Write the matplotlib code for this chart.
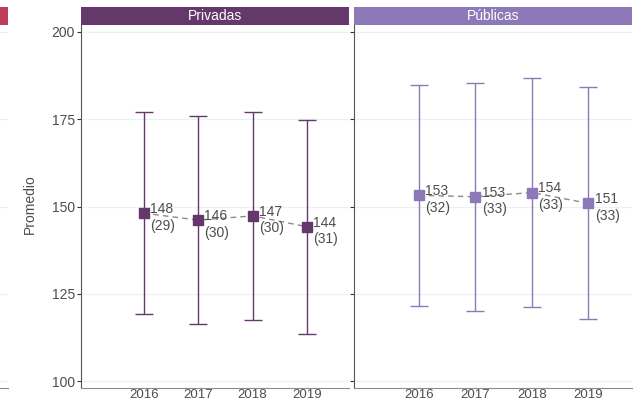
import matplotlib
matplotlib.use("Agg")
import matplotlib.pyplot as plt
import numpy as np

plt.rcParams["font.family"] = ["Liberation Sans", "DejaVu Sans"]

years = [2016, 2017, 2018, 2019]
panels = ["Privadas", "Públicas"]
priv_mean = [148.1, 146.1, 147.3, 144.2]
priv_sd = [29.0, 29.8, 29.9, 30.6]
pub_mean = [153.2, 152.8, 154.0, 150.9]
pub_sd = [31.7, 32.7, 32.7, 33.2]
yticks = [100, 125, 150, 175, 200]

colors = {"Privadas": "#65386B", "Públicas": "#8D79B7"}
left_color = "#C03A5C"
grid_c = "#EBF1F1"
text_c = "#4D4D4D"

W, H = 635, 403
fig = plt.figure(figsize=(W / 100, H / 100), dpi=100)


def px(l, r, top, bot):
    return [l / W, (H - bot) / H, (r - l) / W, (bot - top) / H]


def strip(l, r, color, label):
    sax = fig.add_axes(px(l, r, 7, 25))
    sax.set_facecolor(color)
    sax.set_xticks([])
    sax.set_yticks([])
    for s in sax.spines.values():
        s.set_visible(False)
    if label:
        sax.text(0.5, 0.5, label, color="white", fontsize=10,
                 ha="center", va="center", transform=sax.transAxes)


def base_axes(l, r):
    ax = fig.add_axes(px(l, r, 25, 388))
    ax.set_ylim(98, 202)
    ax.set_yticks(yticks)
    ax.grid(axis="y", color=grid_c, lw=0.9)
    ax.set_axisbelow(True)
    ax.spines["top"].set_visible(False)
    ax.spines["right"].set_visible(False)
    ax.spines["left"].set_color("#555555")
    ax.spines["bottom"].set_color("#8C8C8C")
    return ax


# partial panel on the left (cut off in the reference)
axl = base_axes(-270, 8)
axl.spines["left"].set_visible(False)
axl.set_xticks([])
axl.tick_params(axis="y", length=0, labelleft=False)
strip(-270, 8, left_color, None)

data = {"Privadas": (priv_mean, priv_sd), "Públicas": (pub_mean, pub_sd)}
bounds = {"Privadas": (81, 349), "Públicas": (354, 632)}

for i, name in enumerate(panels):
    l, r = bounds[name]
    ax = base_axes(l, r)
    c = colors[name]
    mean, sd = data[name]
    ax.errorbar(years, mean, yerr=sd, fmt="none", ecolor=c, elinewidth=1.0,
                capsize=6.5, capthick=1.0, zorder=2)
    ax.plot(years, mean, color="#8A8A8A", lw=1, dashes=(4, 3), zorder=3)
    ax.plot(years, mean, ls="none", marker="s", ms=7.5, color=c, zorder=4)
    for x, m, s in zip(years, mean, sd):
        ax.annotate(f"{m:.0f}\n({s:.0f})", (x, m), xytext=(4.5, -3),
                    textcoords="offset points", ha="left", va="center",
                    fontsize=10, color=text_c, linespacing=1.25, zorder=5)
    ax.set_xlim(2014.85, 2019.77)
    ax.set_xticks(years)
    ax.set_xticklabels([str(y) for y in years])
    ax.tick_params(axis="x", length=0, pad=1, labelsize=9.5, labelcolor=text_c)
    ax.tick_params(axis="y", length=3, width=0.8, color="#333333", pad=1.5,
                   labelsize=10, labelcolor=text_c, labelleft=(i == 0))
    strip(l, r, c, name)

fig.text(30 / W, (H - 204) / H, "Promedio", rotation=90, ha="center",
         va="center", fontsize=10, color=text_c)

fig.savefig("out.png", dpi=100)
